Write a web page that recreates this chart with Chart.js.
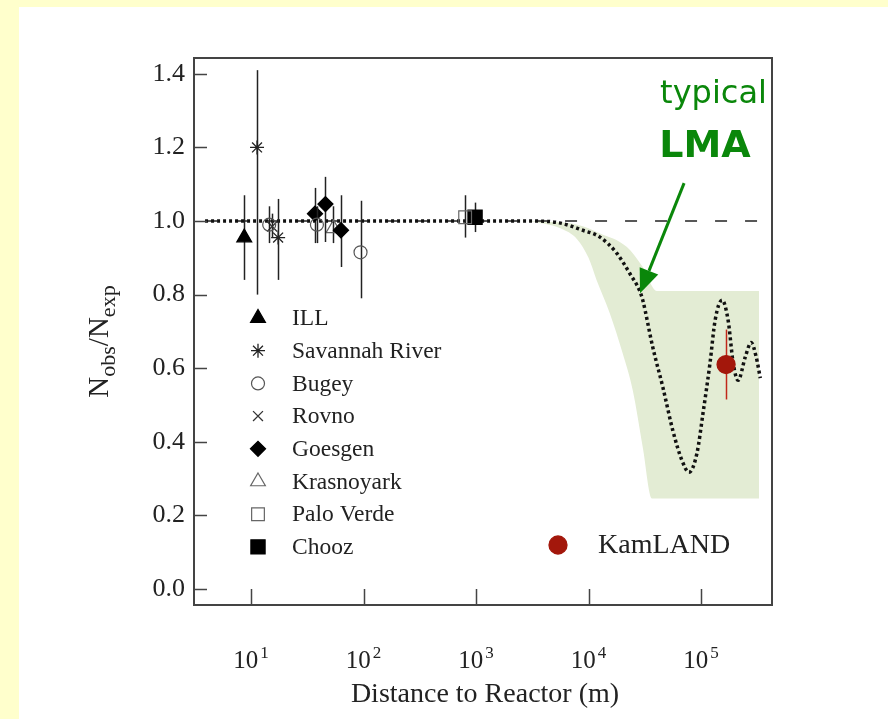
<!DOCTYPE html>
<html>
<head>
<meta charset="utf-8">
<title>Reactor neutrino rate vs distance</title>
<script src="https://cdn.jsdelivr.net/npm/chart.js@4.4.1/dist/chart.umd.min.js"></script>
<style>
  html, body { margin: 0; padding: 0; background: #ffffcc; }
  canvas { display: block; }
</style>
</head>
<body>
<canvas id="ratioChart" width="888" height="719"></canvas>
<script>
// Each row: [distance (m), Nobs/Nexp, error bar low, error bar high]
const ILL = [[8.7, 0.955, 0.84, 1.07]];
const SAVANNAH_RIVER = [[11.3, 1.20, 0.80, 1.41], [17.4, 0.955, 0.84, 1.06]];
const BUGEY = [[14.5, 0.99, 0.94, 1.04], [38.5, 0.99, 0.94, 1.04], [94, 0.915, 0.79, 1.055]];
const ROVNO = [[15.4, 0.985, 0.955, 1.02]];
const GOESGEN = [[37, 1.02, 0.94, 1.09], [45.8, 1.046, 0.943, 1.12], [63, 0.975, 0.875, 1.07]];
const KRASNOYARK = [[54, 0.98, 0.94, 1.04]];
const PALO_VERDE = [[800, 1.01, 0.955, 1.07]];
const CHOOZ = [[980, 1.01, 0.97, 1.05]];
const KAMLAND = [[167000, 0.61, 0.515, 0.705]];

// typical LMA oscillation curve
const lmaDistance = [3.9, 2970, 5510, 8830, 12530, 17780, 23230, 28500, 30340, 37240, 45810,
  56230, 67610, 78160, 92040, 104200, 120200, 133400, 154000, 174200, 193200, 213800,
  247200, 279300, 309700, 336500];
const lmaRatio = [1.0, 1.0, 0.995, 0.975, 0.957, 0.913, 0.858, 0.81, 0.785, 0.657, 0.548,
  0.43, 0.35, 0.317, 0.369, 0.478, 0.614, 0.73, 0.785, 0.73, 0.614, 0.567,
  0.63, 0.67, 0.63, 0.573];

// allowed LMA region (upper / lower edges)
const bandUpperDistance = [2970, 7940, 12530, 21830, 30340, 40460, 328000];
const bandUpperRatio = [1.0, 0.99, 0.967, 0.93, 0.875, 0.81, 0.81];
const bandLowerDistance = [2970, 5620, 7940, 10000, 11780, 15420, 20140, 24720, 30340, 36520, 328000];
const bandLowerRatio = [1.0, 0.98, 0.95, 0.90, 0.84, 0.75, 0.64, 0.54, 0.385, 0.246, 0.246];

// no-oscillation reference
const flatDistance = [3.9, 336500];
const flatRatio = [1.0, 1.0];

const xTicks = [10, 100, 1000, 10000, 100000];
const yTicks = [0, 0.2, 0.4, 0.6, 0.8, 1.0, 1.2, 1.4];

const SERIF = "'Liberation Serif', 'Times New Roman', serif";
const GREEN = '#0a870a';

const toPoints = (xs, ys) => xs.map((x, i) => ({ x: x, y: ys[i] }));

function experiment(label, rows, style) {
  return Object.assign({
    label: label,
    bars: rows,
    data: rows.map(r => ({ x: r[0], y: r[1] })),
    showLine: false,
    order: 2,
    pointBackgroundColor: 'rgba(0,0,0,0)',
    pointBorderColor: '#222',
    pointBorderWidth: 1.3
  }, style);
}

const experiments = [
  experiment('ILL', ILL, { pointStyle: 'triangle', pointRadius: 8.5, pointBackgroundColor: '#000', pointBorderColor: '#000' }),
  experiment('Savannah River', SAVANNAH_RIVER, { pointStyle: 'star', pointRadius: 7 }),
  experiment('Bugey', BUGEY, { pointStyle: 'circle', pointRadius: 6.5, pointBorderColor: '#555', pointBorderWidth: 1.2 }),
  experiment('Rovno', ROVNO, { pointStyle: 'crossRot', pointRadius: 7, pointBorderColor: '#333' }),
  experiment('Goesgen', GOESGEN, { pointStyle: 'rectRot', pointRadius: 7.5, pointBackgroundColor: '#000', pointBorderColor: '#000' }),
  experiment('Krasnoyark', KRASNOYARK, { pointStyle: 'triangle', pointRadius: 8.5, pointBorderColor: '#666', pointBorderWidth: 1.2 }),
  experiment('Palo Verde', PALO_VERDE, { pointStyle: 'rect', pointRadius: 9, pointBorderColor: '#666', pointBorderWidth: 1.2 }),
  experiment('Chooz', CHOOZ, { pointStyle: 'rect', pointRadius: 10, pointBackgroundColor: '#000', pointBorderColor: '#000' })
];

const kamland = experiment('KamLAND', KAMLAND, {
  pointStyle: 'circle', pointRadius: 9, pointBackgroundColor: '#a3170b',
  pointBorderColor: '#a3170b', barColor: '#c0281a', order: 1
});

// background, error bars, axes decoration, legend and the LMA note
const decorations = {
  id: 'decorations',
  beforeDraw(chart) {
    const ctx = chart.ctx;
    ctx.save();
    ctx.fillStyle = '#ffffcc';
    ctx.fillRect(0, 0, chart.width, chart.height);
    ctx.fillStyle = '#ffffff';
    ctx.fillRect(19, 7, chart.width - 19, chart.height - 7);
    ctx.restore();
  },
  beforeDatasetDraw(chart, args) {
    const ds = chart.data.datasets[args.index];
    if (!ds.bars) return;
    const { ctx, scales: { x, y } } = chart;
    ctx.save();
    ctx.strokeStyle = ds.barColor || '#222';
    ctx.lineWidth = 1.5;
    ds.bars.forEach(r => {
      const px = Math.round(x.getPixelForValue(r[0])) + 0.5;
      ctx.beginPath();
      ctx.moveTo(px, y.getPixelForValue(r[2]));
      ctx.lineTo(px, y.getPixelForValue(r[3]));
      ctx.stroke();
    });
    ctx.restore();
  },
  afterDraw(chart) {
    const { ctx, chartArea: a, scales: { x, y } } = chart;
    ctx.save();

    // frame + inward ticks
    ctx.strokeStyle = '#444';
    ctx.lineWidth = 2;
    ctx.strokeRect(a.left, a.top, a.right - a.left, a.bottom - a.top);
    ctx.lineWidth = 1.5;
    ctx.beginPath();
    yTicks.forEach(v => {
      const py = Math.round(y.getPixelForValue(v)) + 0.5;
      ctx.moveTo(a.left, py);
      ctx.lineTo(a.left + 13, py);
    });
    xTicks.forEach(v => {
      const px = Math.round(x.getPixelForValue(v)) + 0.5;
      ctx.moveTo(px, a.bottom);
      ctx.lineTo(px, a.bottom - 16);
    });
    ctx.stroke();

    // x tick labels 10^n
    ctx.fillStyle = '#222';
    ctx.textBaseline = 'alphabetic';
    ctx.textAlign = 'left';
    xTicks.forEach(v => {
      const px = x.getPixelForValue(v);
      const sup = String(Math.round(Math.log10(v)));
      ctx.font = '25px ' + SERIF;
      const w1 = ctx.measureText('10').width;
      ctx.font = '17px ' + SERIF;
      const w2 = ctx.measureText(sup).width;
      const start = px - (w1 + 2 + w2) / 2;
      ctx.font = '25px ' + SERIF;
      ctx.fillText('10', start, a.bottom + 63);
      ctx.font = '17px ' + SERIF;
      ctx.fillText(sup, start + w1 + 2, a.bottom + 53);
    });

    // axis titles
    ctx.font = '28px ' + SERIF;
    ctx.textAlign = 'center';
    ctx.fillText('Distance to Reactor (m)', (a.left + a.right) / 2 + 2, a.bottom + 97);

    const parts = [['N', 29, 0], ['obs', 22, 7], ['/', 29, 0], ['N', 29, 0], ['exp', 22, 7]];
    let total = 0;
    parts.forEach(p => { ctx.font = p[1] + 'px ' + SERIF; p.push(ctx.measureText(p[0]).width); total += p[3]; });
    ctx.translate(108, (a.top + a.bottom) / 2 + 10);
    ctx.rotate(-Math.PI / 2);
    ctx.textAlign = 'left';
    let cx = -total / 2;
    parts.forEach(p => {
      ctx.font = p[1] + 'px ' + SERIF;
      ctx.fillText(p[0], cx, p[2]);
      cx += p[3];
    });
    ctx.setTransform(1, 0, 0, 1, 0, 0);

    // legend
    const rowY = a.top + 260;
    const drawMarker = (ds, mx, my) => {
      ctx.save();
      ctx.fillStyle = ds.pointBackgroundColor;
      ctx.strokeStyle = ds.pointBorderColor;
      ctx.lineWidth = ds.pointBorderWidth;
      Chart.helpers.drawPoint(ctx, {
        pointStyle: ds.pointStyle, radius: ds.pointRadius, rotation: 0, borderWidth: ds.pointBorderWidth
      }, mx, my);
      ctx.restore();
    };
    ctx.font = '23.5px ' + SERIF;
    ctx.textAlign = 'left';
    ctx.textBaseline = 'middle';
    ctx.fillStyle = '#222';
    experiments.forEach((ds, i) => {
      const my = rowY + i * 32.7;
      drawMarker(ds, a.left + 64, my);
      ctx.fillStyle = '#222';
      ctx.fillText(ds.label, a.left + 98, my + 1);
    });
    drawMarker(kamland, a.left + 364, a.top + 487);
    ctx.font = '28px ' + SERIF;
    ctx.fillStyle = '#222';
    ctx.fillText(kamland.label, a.left + 404, a.top + 488);

    // "typical LMA" note with arrow onto the curve
    ctx.fillStyle = GREEN;
    ctx.strokeStyle = GREEN;
    ctx.textBaseline = 'alphabetic';
    ctx.font = '32px "DejaVu Sans", sans-serif';
    ctx.fillText('typical', x.getPixelForValue(43300), y.getPixelForValue(1.321));
    ctx.font = 'bold 38px "DejaVu Sans", sans-serif';
    ctx.fillText('LMA', x.getPixelForValue(42500), y.getPixelForValue(1.174));

    const tx = x.getPixelForValue(70700), ty = y.getPixelForValue(1.103);
    const hx = x.getPixelForValue(28700), hy = y.getPixelForValue(0.804);
    const ang = Math.atan2(hy - ty, hx - tx);
    const headLen = 24, headHalf = 10;
    const bx = hx - Math.cos(ang) * headLen, by = hy - Math.sin(ang) * headLen;
    ctx.lineWidth = 3;
    ctx.beginPath();
    ctx.moveTo(tx, ty);
    ctx.lineTo(bx, by);
    ctx.stroke();
    ctx.beginPath();
    ctx.moveTo(hx, hy);
    ctx.lineTo(bx + Math.sin(ang) * headHalf, by - Math.cos(ang) * headHalf);
    ctx.lineTo(bx - Math.sin(ang) * headHalf, by + Math.cos(ang) * headHalf);
    ctx.closePath();
    ctx.fill();

    ctx.restore();
  }
};

const ctx = document.getElementById('ratioChart').getContext('2d');
const ratioChart = new Chart(ctx, {
  type: 'line',
  data: {
    datasets: [
      {
        label: 'LMA band',
        data: toPoints(bandUpperDistance, bandUpperRatio),
        borderWidth: 0,
        pointRadius: 0,
        backgroundColor: '#e3ecd4',
        fill: '+1',
        cubicInterpolationMode: 'monotone',
        order: 10
      },
      {
        label: 'LMA band low',
        data: toPoints(bandLowerDistance, bandLowerRatio),
        borderWidth: 0,
        pointRadius: 0,
        fill: false,
        cubicInterpolationMode: 'monotone',
        order: 11
      },
      {
        label: 'no oscillation',
        data: toPoints(flatDistance, flatRatio),
        borderColor: '#222',
        borderWidth: 1.6,
        borderDash: [12, 18],
        pointRadius: 0,
        fill: false,
        order: 9
      },
      {
        label: 'typical LMA',
        data: toPoints(lmaDistance, lmaRatio),
        borderColor: '#111',
        borderWidth: 3.5,
        borderDash: [3, 3],
        borderCapStyle: 'butt',
        pointRadius: 0,
        fill: false,
        cubicInterpolationMode: 'monotone',
        order: 8
      },
      ...experiments,
      kamland
    ]
  },
  options: {
    responsive: false,
    animation: false,
    events: [],
    layout: { padding: { left: 134, top: 58, right: 116, bottom: 114 } },
    plugins: {
      legend: { display: false },
      tooltip: { enabled: false }
    },
    scales: {
      x: {
        type: 'logarithmic',
        min: 3.11,
        max: 427600,
        grid: { display: false, drawTicks: false },
        border: { display: false },
        ticks: { display: false },
        afterBuildTicks: s => { s.ticks = xTicks.map(v => ({ value: v })); },
        afterFit: s => { s.height = 0; }
      },
      y: {
        min: -0.0435,
        max: 1.443,
        grid: { display: false, drawTicks: false },
        border: { display: false },
        ticks: {
          font: { family: SERIF, size: 26 },
          color: '#222',
          padding: 9,
          callback: v => v.toFixed(1)
        },
        afterBuildTicks: s => { s.ticks = yTicks.map(v => ({ value: v })); },
        afterFit: s => { s.width = 60; }
      }
    }
  },
  plugins: [decorations]
});
</script>
</body>
</html>
